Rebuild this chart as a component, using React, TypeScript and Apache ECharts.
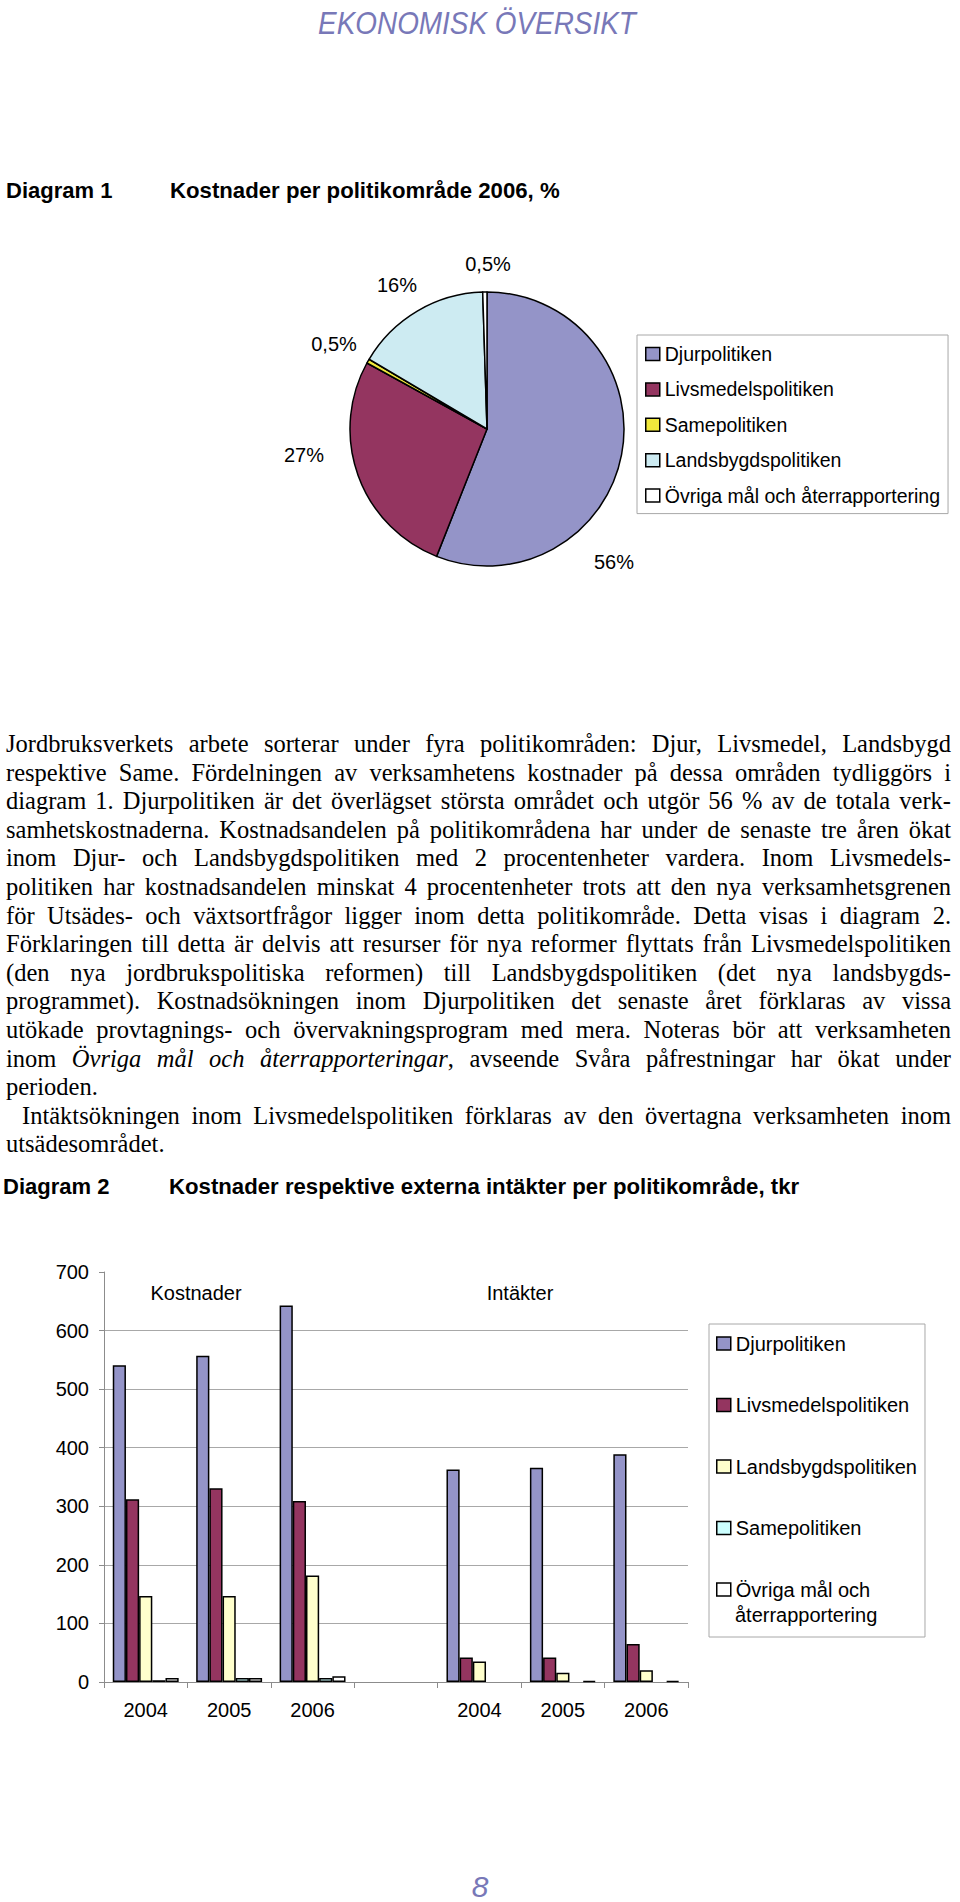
import React, { useEffect, useRef } from 'react';
import * as echarts from 'echarts';

// ---------- Data ----------
const pieNames = [
  'Djurpolitiken',
  'Livsmedelspolitiken',
  'Samepolitiken',
  'Landsbygdspolitiken',
  'Övriga mål och återrapportering',
];
const pieValues = [56, 27, 0.5, 16, 0.5];

const barYears = ['2004', '2005', '2006'];
const barSeriesNames = [
  'Djurpolitiken',
  'Livsmedelspolitiken',
  'Landsbygdspolitiken',
  'Samepolitiken',
  'Övriga mål och återrapportering',
];
const costDjur = [541, 557, 643];
const costLivs = [312, 331, 309];
const costLands = [147, 147, 182];
const costSame = [3, 7, 7];
const costOvriga = [7, 7, 10];
const incomeDjur = [363, 366, 389];
const incomeLivs = [42, 42, 65];
const incomeLands = [35, 16, 20];
const incomeSame: (number | null)[] = [null, null, null];
const incomeOvriga: (number | null)[] = [null, 2, 2];
const yMax = 700;
const yStep = 100;

const paragraphLines = [
  'Jordbruksverkets arbete sorterar under fyra politikområden: Djur, Livsmedel, Landsbygd',
  'respektive Same. Fördelningen av verksamhetens kostnader på dessa områden tydliggörs i',
  'diagram 1. Djurpolitiken är det överlägset största området och utgör 56 % av de totala verk-',
  'samhetskostnaderna. Kostnadsandelen på politikområdena har under de senaste tre åren ökat',
  'inom Djur- och Landsbygdspolitiken med 2 procentenheter vardera. Inom Livsmedels-',
  'politiken har kostnadsandelen minskat 4 procentenheter trots att den nya verksamhetsgrenen',
  'för Utsädes- och växtsortfrågor ligger inom detta politikområde. Detta visas i diagram 2.',
  'Förklaringen till detta är delvis att resurser för nya reformer flyttats från Livsmedelspolitiken',
  '(den nya jordbrukspolitiska reformen) till Landsbygdspolitiken (det nya landsbygds-',
  'programmet). Kostnadsökningen inom Djurpolitiken det senaste året förklaras av vissa',
  'utökade provtagnings- och övervakningsprogram med mera. Noteras bör att verksamheten',
  'inom *Övriga mål och återrapporteringar*, avseende Svåra påfrestningar har ökat under',
  'perioden.',
];
const paragraph2Lines = [
  'Intäktsökningen inom Livsmedelspolitiken förklaras av den övertagna verksamheten inom',
  'utsädesområdet.',
];

// ---------- Styles / layout ----------
const SANS = 'Liberation Sans';
const SERIF = 'Liberation Serif';
const LAVENDER = '#7878b8';
const pieColors = ['#9494c8', '#943560', '#f0e83c', '#cdebf2', '#ffffff'];
const barColors = ['#9494c8', '#943560', '#ffffcc', '#ccffff', '#ffffff'];
const pieLabelPos = [
  [614, 562],
  [304, 455],
  [334, 344],
  [397, 285],
  [488, 264],
];
const OVRIGA = 'Övriga mål och återrapportering';
const BAR_LEGEND = { left: 709, top: 1324, padTop: 7, padLeft: 7, itemW: 14, lineH: 25, gap: 36.5 };

function buildParagraph(): any[] {
  const canvas = document.createElement('canvas');
  const ctx = canvas.getContext('2d') as CanvasRenderingContext2D;
  const fs = 24.5;
  const fontOf = (it: boolean) => `${it ? 'italic ' : ''}${fs}px ${SERIF}`;
  const measure = (t: string, it: boolean) => {
    ctx.font = fontOf(it);
    return ctx.measureText(t).width;
  };
  const specs: { text: string; x0: number; y: number; justify: boolean }[] = [];
  const W = 945;
  paragraphLines.forEach((t, i) => {
    specs.push({ text: t, x0: 6, y: 743.5 + 28.6 * i, justify: i < paragraphLines.length - 1 });
  });
  specs.push({ text: paragraph2Lines[0], x0: 22, y: 1115, justify: true });
  specs.push({ text: paragraph2Lines[1], x0: 6, y: 1143, justify: false });

  const els: any[] = [];
  let italic = false;
  const spaceW = measure(' ', false);
  specs.forEach((sp) => {
    const words = sp.text.split(' ');
    const wordSegs = words.map((w) => {
      const segs: { t: string; it: boolean; w: number }[] = [];
      const parts = w.split('*');
      parts.forEach((p, k) => {
        if (k > 0) italic = !italic;
        if (p) segs.push({ t: p, it: italic, w: measure(p, italic) });
      });
      return segs;
    });
    const widths = wordSegs.map((s) => s.reduce((a, b) => a + b.w, 0));
    const sum = widths.reduce((a, b) => a + b, 0);
    const n = words.length - 1;
    const avail = W - (sp.x0 - 6);
    let gap = spaceW;
    let scale = 1;
    if (sp.justify && n > 0) {
      gap = (avail - sum) / n;
      const minGap = 4.5;
      if (gap < minGap) {
        scale = (avail - n * minGap) / sum;
        gap = minGap;
      }
    }
    let x = sp.x0;
    wordSegs.forEach((segs) => {
      segs.forEach((s) => {
        els.push({
          type: 'text',
          x,
          y: sp.y,
          scaleX: scale,
          silent: true,
          style: {
            text: s.t,
            fontSize: fs,
            fontFamily: SERIF,
            fontStyle: s.it ? 'italic' : 'normal',
            fill: '#000',
            align: 'left',
            verticalAlign: 'middle',
          },
        });
        x += s.w * scale;
      });
      x += gap;
    });
  });
  return els;
}

function textEl(text: string, x: number, y: number, opts: any = {}, extra: any = {}) {
  return {
    type: 'text',
    x,
    y,
    silent: true,
    ...extra,
    style: {
      text,
      fontSize: 20,
      fontFamily: SANS,
      fill: '#000',
      align: 'left',
      verticalAlign: 'middle',
      ...opts,
    },
  };
}

export default function App() {
  const ref = useRef<HTMLDivElement>(null);
  useEffect(() => {
    document.body.style.margin = '0';
    const chart = echarts.init(ref.current as HTMLDivElement, null, { renderer: 'svg' });

    const costs = [costDjur, costLivs, costLands, costSame, costOvriga];
    const incomes = [incomeDjur, incomeLivs, incomeLands, incomeSame, incomeOvriga];
    const categories = [...barYears, '', ...barYears];

    // second line of the last bar-legend entry, placed under its first line
    const lastIdx = barSeriesNames.length - 1;
    const contX = BAR_LEGEND.left + BAR_LEGEND.padLeft + BAR_LEGEND.itemW + 5;
    const contY =
      BAR_LEGEND.top +
      BAR_LEGEND.padTop +
      lastIdx * (BAR_LEGEND.lineH + BAR_LEGEND.gap) +
      BAR_LEGEND.lineH * 1.5;

    const graphicEls: any[] = [
      textEl(
        'EKONOMISK ÖVERSIKT',
        477,
        23,
        { fontSize: 31, fontStyle: 'italic', fill: LAVENDER, align: 'center' },
        { scaleX: 0.9 }
      ),
      textEl('Diagram 1', 6, 190, { fontSize: 22, fontWeight: 'bold' }),
      textEl('Kostnader per politikområde 2006, %', 170, 190, { fontSize: 22.2, fontWeight: 'bold' }),
      textEl('Diagram 2', 3, 1186, { fontSize: 22, fontWeight: 'bold' }),
      textEl('Kostnader respektive externa intäkter per politikområde, tkr', 169, 1186, {
        fontSize: 22.2,
        fontWeight: 'bold',
      }),
      textEl('Kostnader', 196, 1293, { align: 'center' }),
      textEl('Intäkter', 520, 1293, { align: 'center' }),
      textEl('återrapportering', contX, contY, { fontSize: 20 }),
      textEl('8', 480, 1886, { fontSize: 30, fontStyle: 'italic', fill: LAVENDER, align: 'center' }),
      ...buildParagraph(),
    ];

    const legendText = { fontFamily: SANS, color: '#000' };

    chart.setOption({
      animation: false,
      textStyle: { fontFamily: SANS },
      graphic: { elements: graphicEls },
      legend: [
        {
          orient: 'vertical',
          left: 637,
          top: 335,
          padding: [9, 8, 8, 8],
          itemGap: 15.4,
          itemWidth: 14,
          itemHeight: 13,
          icon: 'rect',
          borderColor: '#a8a8a8',
          borderWidth: 1,
          selectedMode: false,
          textStyle: { ...legendText, fontSize: 19.5, lineHeight: 20 },
          data: pieNames.map((n, i) => ({
            name: n,
            itemStyle: { color: pieColors[i], borderColor: '#000', borderWidth: 1.5 },
          })),
        },
        {
          orient: 'vertical',
          left: BAR_LEGEND.left,
          top: BAR_LEGEND.top,
          padding: [BAR_LEGEND.padTop, 8, 35, BAR_LEGEND.padLeft],
          itemGap: BAR_LEGEND.gap,
          itemWidth: BAR_LEGEND.itemW,
          itemHeight: 13,
          icon: 'rect',
          borderColor: '#a8a8a8',
          borderWidth: 1,
          selectedMode: false,
          textStyle: { ...legendText, fontSize: 20, lineHeight: BAR_LEGEND.lineH },
          formatter: (name: string) => (name === OVRIGA ? 'Övriga mål och' : name),
          data: barSeriesNames.map((n, i) => ({
            name: n,
            itemStyle: { color: barColors[i], borderColor: '#000', borderWidth: 1.5 },
          })),
        },
      ],
      grid: {
        left: 104,
        top: 1272,
        width: 584,
        height: 410,
        containLabel: false,
        outerBoundsMode: 'none',
      },
      xAxis: {
        type: 'category',
        data: categories,
        boundaryGap: true,
        axisLine: { show: true, lineStyle: { color: '#8c8c8c', width: 1 } },
        axisTick: { show: true, length: 6, alignWithLabel: false, interval: 0, lineStyle: { color: '#8c8c8c' } },
        axisLabel: { interval: 0, fontSize: 20, margin: 18, color: '#000', fontFamily: SANS },
        splitLine: { show: false },
      },
      yAxis: {
        type: 'value',
        min: 0,
        max: yMax,
        interval: yStep,
        axisLine: { show: true, lineStyle: { color: '#8c8c8c', width: 1 } },
        axisTick: { show: true, length: 5, lineStyle: { color: '#8c8c8c' } },
        axisLabel: { fontSize: 20, margin: 15, color: '#000', fontFamily: SANS },
        splitLine: { show: true, showMaxLine: false, lineStyle: { color: '#a8a8a8', width: 1 } },
      },
      series: [
        {
          type: 'pie',
          center: [487, 429],
          radius: 137,
          startAngle: 90,
          clockwise: true,
          avoidLabelOverlap: false,
          emphasis: { disabled: true },
          itemStyle: { borderColor: '#000', borderWidth: 1.5 },
          data: pieNames.map((n, i) => ({
            name: n,
            value: pieValues[i],
            itemStyle: { color: pieColors[i] },
          })),
          label: {
            show: true,
            position: 'outside',
            formatter: (p: any) => String(p.value).replace('.', ',') + '%',
            fontSize: 20,
            fontFamily: SANS,
            color: '#000',
          },
          labelLine: { show: false },
          labelLayout: (params: any) => {
            const p = pieLabelPos[params.dataIndex];
            return { x: p[0], y: p[1], align: 'center', verticalAlign: 'middle' };
          },
        },
        ...barSeriesNames.map((name, i) => ({
          type: 'bar',
          name,
          data: [...costs[i], null, ...incomes[i]],
          barGap: '0%',
          barCategoryGap: '21%',
          emphasis: { disabled: true },
          itemStyle: { color: barColors[i], borderColor: '#000', borderWidth: 1.5 },
        })),
      ],
    });
    return () => chart.dispose();
  }, []);
  return (
    <div
      ref={ref}
      style={{ position: 'absolute', left: 0, top: 0, width: 960, height: 1902, background: '#fff' }}
    />
  );
}
